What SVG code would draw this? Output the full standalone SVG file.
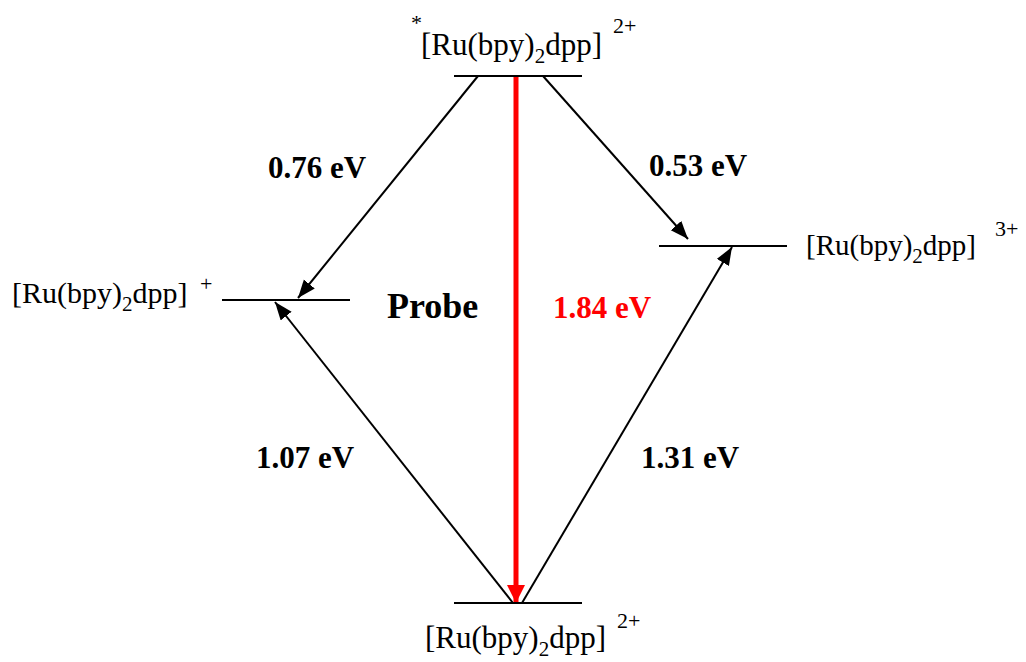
<svg xmlns="http://www.w3.org/2000/svg" width="1026" height="662" viewBox="0 0 1026 662">
<style>
.lvl{stroke:#000;stroke-width:2;fill:none}
.arr{stroke:#000;stroke-width:2;fill:none;marker-end:url(#ah)}
.red{stroke:#ff0000;stroke-width:5;fill:none;marker-end:url(#rh)}
.lab{font-family:"Liberation Serif","Times New Roman",serif;font-size:31px;fill:#000}
.sub{font-size:21px}
.sup{font-family:"Liberation Serif","Times New Roman",serif;font-size:22px;fill:#000}
.ev{font-family:"Liberation Serif","Times New Roman",serif;font-size:31px;font-weight:bold;fill:#000}
</style>
<defs>
<marker id="ah" markerUnits="userSpaceOnUse" markerWidth="20" markerHeight="16" refX="18" refY="7" orient="auto">
<path d="M0,0 L18,7 L0,14 z" fill="#000"/>
</marker>
<marker id="rh" markerUnits="userSpaceOnUse" markerWidth="20" markerHeight="20" refX="18" refY="9" orient="auto">
<path d="M0,0 L18,9 L0,18 z" fill="#ff0000"/>
</marker>
</defs>
<g id="connectors">
<line class="arr" x1="478" y1="76" x2="298" y2="298"/>
<line class="arr" x1="513" y1="603" x2="275" y2="302"/>
<line class="arr" x1="543" y1="76" x2="688" y2="239"/>
<line class="arr" x1="522" y1="603" x2="732" y2="247"/>
<line class="red" x1="516" y1="77" x2="516" y2="603"/>
</g>
<g id="excited">
<line class="lvl" x1="454" y1="76" x2="582" y2="76"/>
<text class="sup" x="411" y="30">*</text>
<text class="lab" x="421" y="55">[Ru(bpy)<tspan class="sub" dy="8">2</tspan><tspan dy="-8">dpp]</tspan></text>
<text class="sup" x="613" y="33">2+</text>
</g>
<g id="reduced">
<line class="lvl" x1="222" y1="300" x2="350" y2="300"/>
<text class="lab" x="12" y="303" style="font-size:30px">[Ru(bpy)<tspan class="sub" dy="8">2</tspan><tspan dy="-8">dpp]</tspan></text>
<text class="sup" x="200" y="291">+</text>
</g>
<g id="oxidized">
<line class="lvl" x1="659" y1="246" x2="787" y2="246"/>
<text class="lab" x="806" y="255" style="font-size:29px">[Ru(bpy)<tspan class="sub" dy="8">2</tspan><tspan dy="-8">dpp]</tspan></text>
<text class="sup" x="995" y="236">3+</text>
</g>
<g id="ground">
<line class="lvl" x1="454" y1="603" x2="582" y2="603"/>
<text class="lab" x="425" y="648">[Ru(bpy)<tspan class="sub" dy="8">2</tspan><tspan dy="-8">dpp]</tspan></text>
<text class="sup" x="617" y="628">2+</text>
</g>
<g id="labels">
<text class="ev" x="268" y="178">0.76 eV</text>
<text class="ev" x="649" y="176">0.53 eV</text>
<text class="ev" x="256" y="468">1.07 eV</text>
<text class="ev" x="641" y="468">1.31 eV</text>
<text class="ev" x="553" y="318" style="fill:#ff0000">1.84 eV</text>
<text class="ev" x="387" y="318" style="font-size:36px">Probe</text>
</g>
</svg>
